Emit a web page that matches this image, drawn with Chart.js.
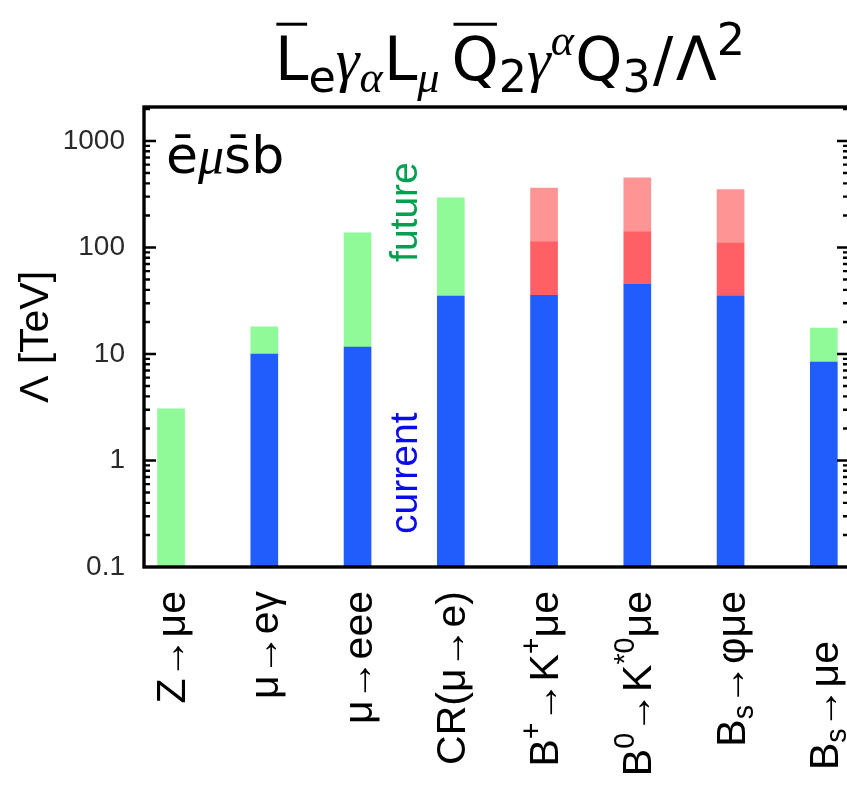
<!DOCTYPE html>
<html>
<head>
<meta charset="utf-8">
<script src="https://cdn.jsdelivr.net/npm/chart.js@4.4.0/dist/chart.umd.min.js"></script>
<style>
  html, body { margin: 0; padding: 0; background: #fff; overflow: hidden; }
  #wrap { position: absolute; left: 0; top: 0; width: 870px; height: 789px; }
</style>
</head>
<body>
<div id="wrap"><canvas id="c" width="870" height="789"></canvas></div>
<script>
// Processes (markup: ^{..} superscript, _{..} subscript)
const categories = ['Z→μe', 'μ→eγ', 'μ→eee', 'CR(μ→e)', 'B^{+}→K^{+}μe', 'B^{0}→K^{*0}μe', 'B_{s}→φμe', 'B_{s}→μe'];

// Bounds on Λ [TeV]
const current      = [null, 10, 11.6, 35, 35.6, 45, 35, 8.4];
const future       = [3.05, 18, 137, 292, null, null, null, 17.5];
const futureStage1 = [null, null, null, null, 113, 140, 110, null];
const futureStage2 = [null, null, null, null, 362, 450, 350, null];

// Axis
const yTicks = [0.1, 1, 10, 100, 1000];
const yTickLabels = ['0.1', '1', '10', '100', '1000'];
const yMin = 0.1, yMax = 2085;

const COLORS = {
  current: 'rgb(33,92,252)',
  future: 'rgb(144,249,152)',
  stage1: 'rgb(255,96,102)',
  stage2: 'rgb(255,148,148)'
};

// floating segments stacked on top of each other
function segments(lows, highs) {
  const out = [];
  highs.forEach((h, i) => {
    if (h == null) return;
    let lo = yMin;
    for (const arr of lows) { if (arr[i] != null) lo = arr[i]; }
    out.push({ x: i, y: [lo, h] });
  });
  return out;
}

const datasets = [
  { label: 'current', data: segments([], current), backgroundColor: COLORS.current },
  { label: 'future', data: segments([current], future), backgroundColor: COLORS.future },
  { label: 'future (1)', data: segments([current], futureStage1), backgroundColor: COLORS.stage1 },
  { label: 'future (2)', data: segments([current, futureStage1], futureStage2), backgroundColor: COLORS.stage2 }
].map(d => Object.assign(d, { grouped: false, barThickness: 27, borderWidth: 0 }));

function parseMarkup(str) {
  const parts = [];
  const re = /\^\{([^}]*)\}|_\{([^}]*)\}|([^\^_]+)/g;
  let m;
  while ((m = re.exec(str)) !== null) {
    if (m[1] !== undefined) parts.push({ t: m[1], sup: true });
    else if (m[2] !== undefined) parts.push({ t: m[2], sub: true });
    else parts.push({ t: m[3] });
  }
  return parts;
}

const SANS = '"Liberation Sans", Arial, sans-serif';
const DEJAVU = '"DejaVu Sans", sans-serif';
const MATH_IT = '"Liberation Serif", "DejaVu Serif", serif';

function partFont(p, size, family, scr) {
  const s = (p.sup || p.sub) ? size * scr : size;
  return (p.it ? 'italic ' : '') + s + 'px ' + (p.it ? MATH_IT : family);
}
function richWidth(ctx, parts, size, family, scr = 0.7) {
  let w = 0;
  for (const p of parts) { ctx.font = partFont(p, size, family, scr); w += ctx.measureText(p.t).width + (p.gap || 0) * size; }
  return w;
}
function drawRich(ctx, parts, x, y, size, family, scr = 0.7) {
  let cx = x;
  for (const p of parts) {
    ctx.font = partFont(p, size, family, scr);
    const dy = p.sup ? -size * 0.42 : (p.sub ? size * 0.2 : 0);
    ctx.fillText(p.t, cx, y + dy);
    const w = ctx.measureText(p.t).width;
    if (p.over) {
      ctx.save();
      ctx.lineWidth = size * 0.05;
      ctx.beginPath();
      ctx.moveTo(cx + w * 0.04, y - size * 0.93);
      ctx.lineTo(cx + w * 0.96, y - size * 0.93);
      ctx.stroke();
      ctx.restore();
    }
    cx += w + (p.gap || 0) * size;
  }
}

const titleParts = [
  { t: 'L', over: true }, { t: 'e', sub: true }, { t: 'γ', it: true }, { t: 'α', it: true, sub: true, gap: 0.02 },
  { t: 'L' }, { t: 'μ', it: true, sub: true, gap: 0.2 },
  { t: 'Q', over: true }, { t: '2', sub: true }, { t: 'γ', it: true }, { t: 'α', it: true, sup: true, gap: 0.02 },
  { t: 'Q' }, { t: '3', sub: true, gap: 0.04 }, { t: '/', gap: 0.04 }, { t: 'Λ' }, { t: '2', sup: true }
];

const decorations = {
  id: 'decorations',
  afterDraw(chart) {
    const { ctx, chartArea: ca } = chart;
    const ys = chart.scales.y, xs = chart.scales.x;
    ctx.save();
    ctx.strokeStyle = '#000';
    ctx.fillStyle = '#000';

    // frame
    ctx.lineWidth = 3.4;
    ctx.strokeRect(ca.left, ca.top, ca.right - ca.left, ca.bottom - ca.top);

    // inward log ticks on both sides
    ctx.lineWidth = 2.4;
    for (let d = -1; d <= 3; d++) {
      for (let k = 1; k <= 9; k++) {
        const v = k * Math.pow(10, d);
        if (v > yMax || v <= yMin) continue;
        const y = ys.getPixelForValue(v);
        const len = k === 1 ? 12 : 6;
        ctx.beginPath();
        ctx.moveTo(ca.left, y); ctx.lineTo(ca.left + len, y);
        ctx.moveTo(ca.right, y); ctx.lineTo(ca.right - len, y);
        ctx.stroke();
      }
    }

    // rotated annotations
    const between = xs.getPixelForValue(2.5);
    ctx.font = '39px ' + SANS;
    ctx.textAlign = 'center';
    ctx.textBaseline = 'alphabetic';
    [['future', 215, 'rgb(0,160,80)'], ['current', 0.76, 'rgb(10,10,235)']].forEach(([txt, v, col]) => {
      ctx.save();
      ctx.translate(between + 13, ys.getPixelForValue(v));
      ctx.rotate(-Math.PI / 2);
      ctx.fillStyle = col;
      ctx.fillText(txt, 0, 0);
      ctx.restore();
    });

    // flavour label
    ctx.textAlign = 'left';
    ctx.fillStyle = '#000';
    drawRich(ctx, [{ t: 'ē' }, { t: 'μ', it: true }, { t: 's̄b' }], ca.left + 22, ca.top + 66, 52, DEJAVU);

    // category labels, rotated, ending just below the axis
    const labelSize = 41;
    categories.forEach((c, i) => {
      const parts = parseMarkup(c);
      const w = richWidth(ctx, parts, labelSize, SANS);
      const shift = (i === categories.length - 1) ? 50 : 0;
      ctx.save();
      ctx.translate(xs.getPixelForValue(i) + 14, ca.bottom + 24 + shift);
      ctx.rotate(-Math.PI / 2);
      drawRich(ctx, parts, -w, 0, labelSize, SANS);
      ctx.restore();
    });

    // operator title
    const tSize = 60;
    const tw = richWidth(ctx, titleParts, tSize, DEJAVU, 0.74);
    drawRich(ctx, titleParts, 510 - tw / 2, 80, tSize, DEJAVU, 0.74);

    ctx.restore();
  }
};

new Chart(document.getElementById('c'), {
  type: 'bar',
  data: { datasets },
  options: {
    responsive: false,
    animation: false,
    layout: { padding: { top: 107, right: 21, left: 0, bottom: 0 } },
    plugins: { legend: { display: false }, tooltip: { enabled: false } },
    scales: {
      x: {
        type: 'linear',
        offset: false,
        min: -0.29, max: 7.27,
        grid: { display: false },
        border: { display: false },
        ticks: { display: false },
        afterFit(scale) { scale.height = 222; }
      },
      y: {
        type: 'logarithmic',
        min: yMin, max: yMax,
        bounds: 'data',
        grid: { display: false, drawTicks: false },
        border: { display: false },
        afterBuildTicks(scale) { scale.ticks = yTicks.map(v => ({ value: v, major: true })); },
        afterFit(scale) { scale.width = 144; },
        ticks: {
          padding: 19,
          color: '#2a2a2a',
          font: { family: SANS, size: 28 },
          callback: (v, i) => yTickLabels[i]
        },
        title: {
          display: true,
          text: 'Λ [TeV]',
          color: '#000',
          font: { family: SANS, size: 41 },
          padding: { top: 12, bottom: 0 }
        }
      }
    }
  },
  plugins: [decorations]
});
</script>
</body>
</html>
